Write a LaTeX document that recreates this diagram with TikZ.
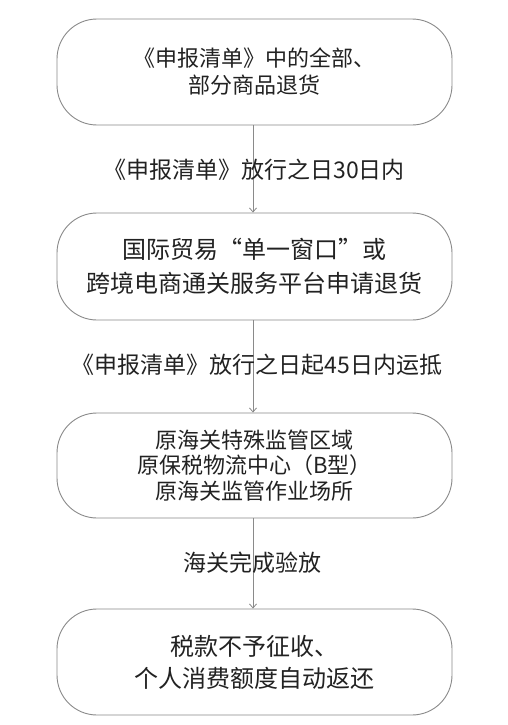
\documentclass[tikz,border=0pt]{standalone}
\usepackage{fontspec}
\setmainfont{Noto Sans CJK SC}
\usetikzlibrary{arrows.meta}
\definecolor{edgegray}{HTML}{8A8A8A}
\definecolor{txt}{HTML}{222222}
\tikzset{
  stepbox/.style={draw=edgegray, line width=0.9pt, rounded corners=40pt,
    minimum width=395pt, text=txt, align=center, inner sep=0pt},
  steplabel/.style={text=txt, inner sep=0pt, font=\fontsize{23}{27}\selectfont},
  flow/.style={draw=edgegray, line width=0.8pt, -{Straight Barb[length=4pt,width=7pt]}}
}
\begin{document}
\begin{tikzpicture}[x=1pt,y=-1pt]
\useasboundingbox[fill=white] (0,0) rectangle (508,725);
\node[stepbox, minimum height=106pt, font=\fontsize{22}{27}\selectfont] (b1) at (254.5,72) {《申报清单》中的全部、\\部分商品退货};
\node[stepbox, minimum height=107pt, font=\fontsize{24}{34}\selectfont] (b2) at (254.5,266.5) {国际贸易“单一窗口”或\\跨境电商通关服务平台申请退货};
\node[stepbox, minimum height=105pt, font=\fontsize{22}{25.5}\selectfont] (b3) at (254.5,465.5) {原海关特殊监管区域\\原保税物流中心（B型）\\原海关监管作业场所};
\node[stepbox, minimum height=106pt, font=\fontsize{24}{32}\selectfont] (b4) at (254.5,662) {税款不予征收、\\个人消费额度自动返还};
\draw[flow] (b1.south -| 253,0) -- (b2.north -| 253,0);
\draw[flow] (b2.south -| 253,0) -- (b3.north -| 253,0);
\draw[flow] (b3.south -| 253,0) -- (b4.north -| 253,0);
\node[steplabel] (l1) at (254,170) {《申报清单》放行之日30日内};
\node[steplabel] (l2) at (257,365) {《申报清单》放行之日起45日内运抵};
\node[steplabel] (l3) at (252.5,563) {海关完成验放};
\end{tikzpicture}
\end{document}
